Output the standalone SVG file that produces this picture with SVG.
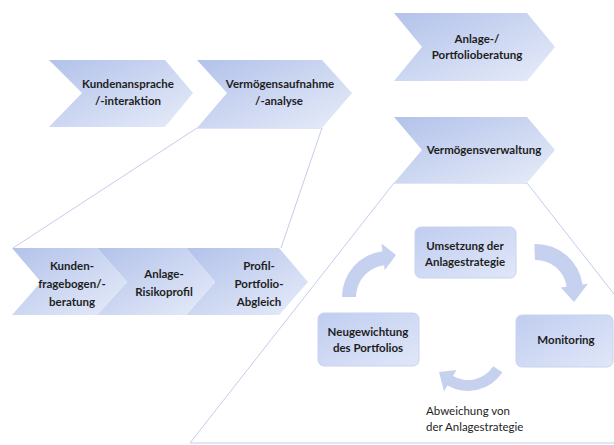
<svg xmlns="http://www.w3.org/2000/svg" width="614" height="445" viewBox="0 0 614 445">
<defs>
<linearGradient id="chev" x1="0" y1="0" x2="1" y2="1">
<stop offset="0" stop-color="#b2c2ea"/>
<stop offset="1" stop-color="#e7ecf9"/>
</linearGradient>
<linearGradient id="box" x1="0" y1="0" x2="1" y2="1">
<stop offset="0" stop-color="#c0cdf0"/>
<stop offset="1" stop-color="#e0e7f8"/>
</linearGradient>
<style>
.chev{fill:url(#chev);}
.box{fill:url(#box);stroke:#c9d3f1;stroke-width:1;}
.arr{fill:#c6d1f0;}
.ln{fill:none;stroke:#c3cdec;stroke-width:1;}
.t{font-family:Lato,"Liberation Sans",sans-serif;font-weight:700;font-size:11.5px;fill:#1e1e1e;text-anchor:middle;}
.n{font-family:Lato,"Liberation Sans",sans-serif;font-weight:400;font-size:11.5px;fill:#1e1e1e;}
</style>
</defs>
<rect width="614" height="445" fill="#ffffff"/>
<g id="connectors">
<polyline class="ln" points="281,248 322,128 197,128 13,248"/>
<polyline class="ln" points="614,294 527,183 394,183 190,443 614,443"/>
<path id="arrow-1" class="arr" d="M342,297 A46 46 0 0 1 382.4,251.3 L381.5,243.5 L396,255 L384.7,270.2 L384.1,265.2 A32 32 0 0 0 356,297 Z"/>
<path id="arrow-2" class="arr" d="M534.4,244 A47 47 0 0 1 582.5,284.5 L588,283.7 L574,302 L560.8,287.5 L566.7,286.7 A31 31 0 0 0 534.9,260 Z"/>
<path id="arrow-3" class="arr" d="M502.4,372.3 A41 41 0 0 1 447.5,385.5 L444,391.6 L439,372 L456.5,369.9 L453,376 A30 30 0 0 0 493.2,366.3 Z"/>
</g>
<g id="kundenansprache">
<polygon class="chev" points="49,60 165,60 193,93 165,127 49,127 82,93"/>
<text class="t" x="128" y="88">Kundenansprache</text>
<text class="t" x="128" y="105">/-interaktion</text>
</g>
<g id="vermoegensaufnahme">
<polygon class="chev" points="197,60 322,60 352,93 322,128 197,128 227,93"/>
<text class="t" x="280" y="88">Vermögensaufnahme</text>
<text class="t" x="279" y="105">/-analyse</text>
</g>
<g id="anlageberatung">
<polygon class="chev" points="394,13 527,13 555,47 527,81 394,81 422,47"/>
<text class="t" x="477" y="43">Anlage-/</text>
<text class="t" x="477" y="59">Portfolioberatung</text>
</g>
<g id="vermoegensverwaltung">
<polygon class="chev" points="394,117 527,117 555,150 527,183 394,183 422,150"/>
<text class="t" x="484" y="154">Vermögensverwaltung</text>
</g>
<g id="profilabgleich">
<polygon class="chev" points="186,248 279,248 308,282 279,315 186,315 215,282"/>
<text class="t" x="259" y="270">Profil-</text>
<text class="t" x="259" y="288">Portfolio-</text>
<text class="t" x="259" y="306">Abgleich</text>
</g>
<g id="risikoprofil">
<polygon class="chev" points="97,248 186,248 215,282 186,315 97,315 127,282"/>
<text class="t" x="164" y="278">Anlage-</text>
<text class="t" x="164" y="296">Risikoprofil</text>
</g>
<g id="kundenfragebogen">
<polygon class="chev" points="12,248 97,248 127,282 97,315 12,315 41,282"/>
<text class="t" x="72" y="270">Kunden-</text>
<text class="t" x="72" y="288">fragebogen/-</text>
<text class="t" x="72" y="306">beratung</text>
</g>
<g id="umsetzung">
<rect class="box" x="415" y="227" width="101" height="51" rx="6"/>
<text class="t" x="465" y="250">Umsetzung der</text>
<text class="t" x="465" y="266">Anlagestrategie</text>
</g>
<g id="monitoring">
<rect class="box" x="516" y="315" width="97" height="52" rx="6"/>
<text class="t" x="566" y="344">Monitoring</text>
</g>
<g id="neugewichtung">
<rect class="box" x="318" y="313" width="101" height="53" rx="6"/>
<text class="t" x="368" y="336">Neugewichtung</text>
<text class="t" x="368" y="352">des Portfolios</text>
</g>
<g id="abweichung">
<text class="n" x="426" y="415">Abweichung von</text>
<text class="n" x="426" y="431">der Anlagestrategie</text>
</g>
</svg>
